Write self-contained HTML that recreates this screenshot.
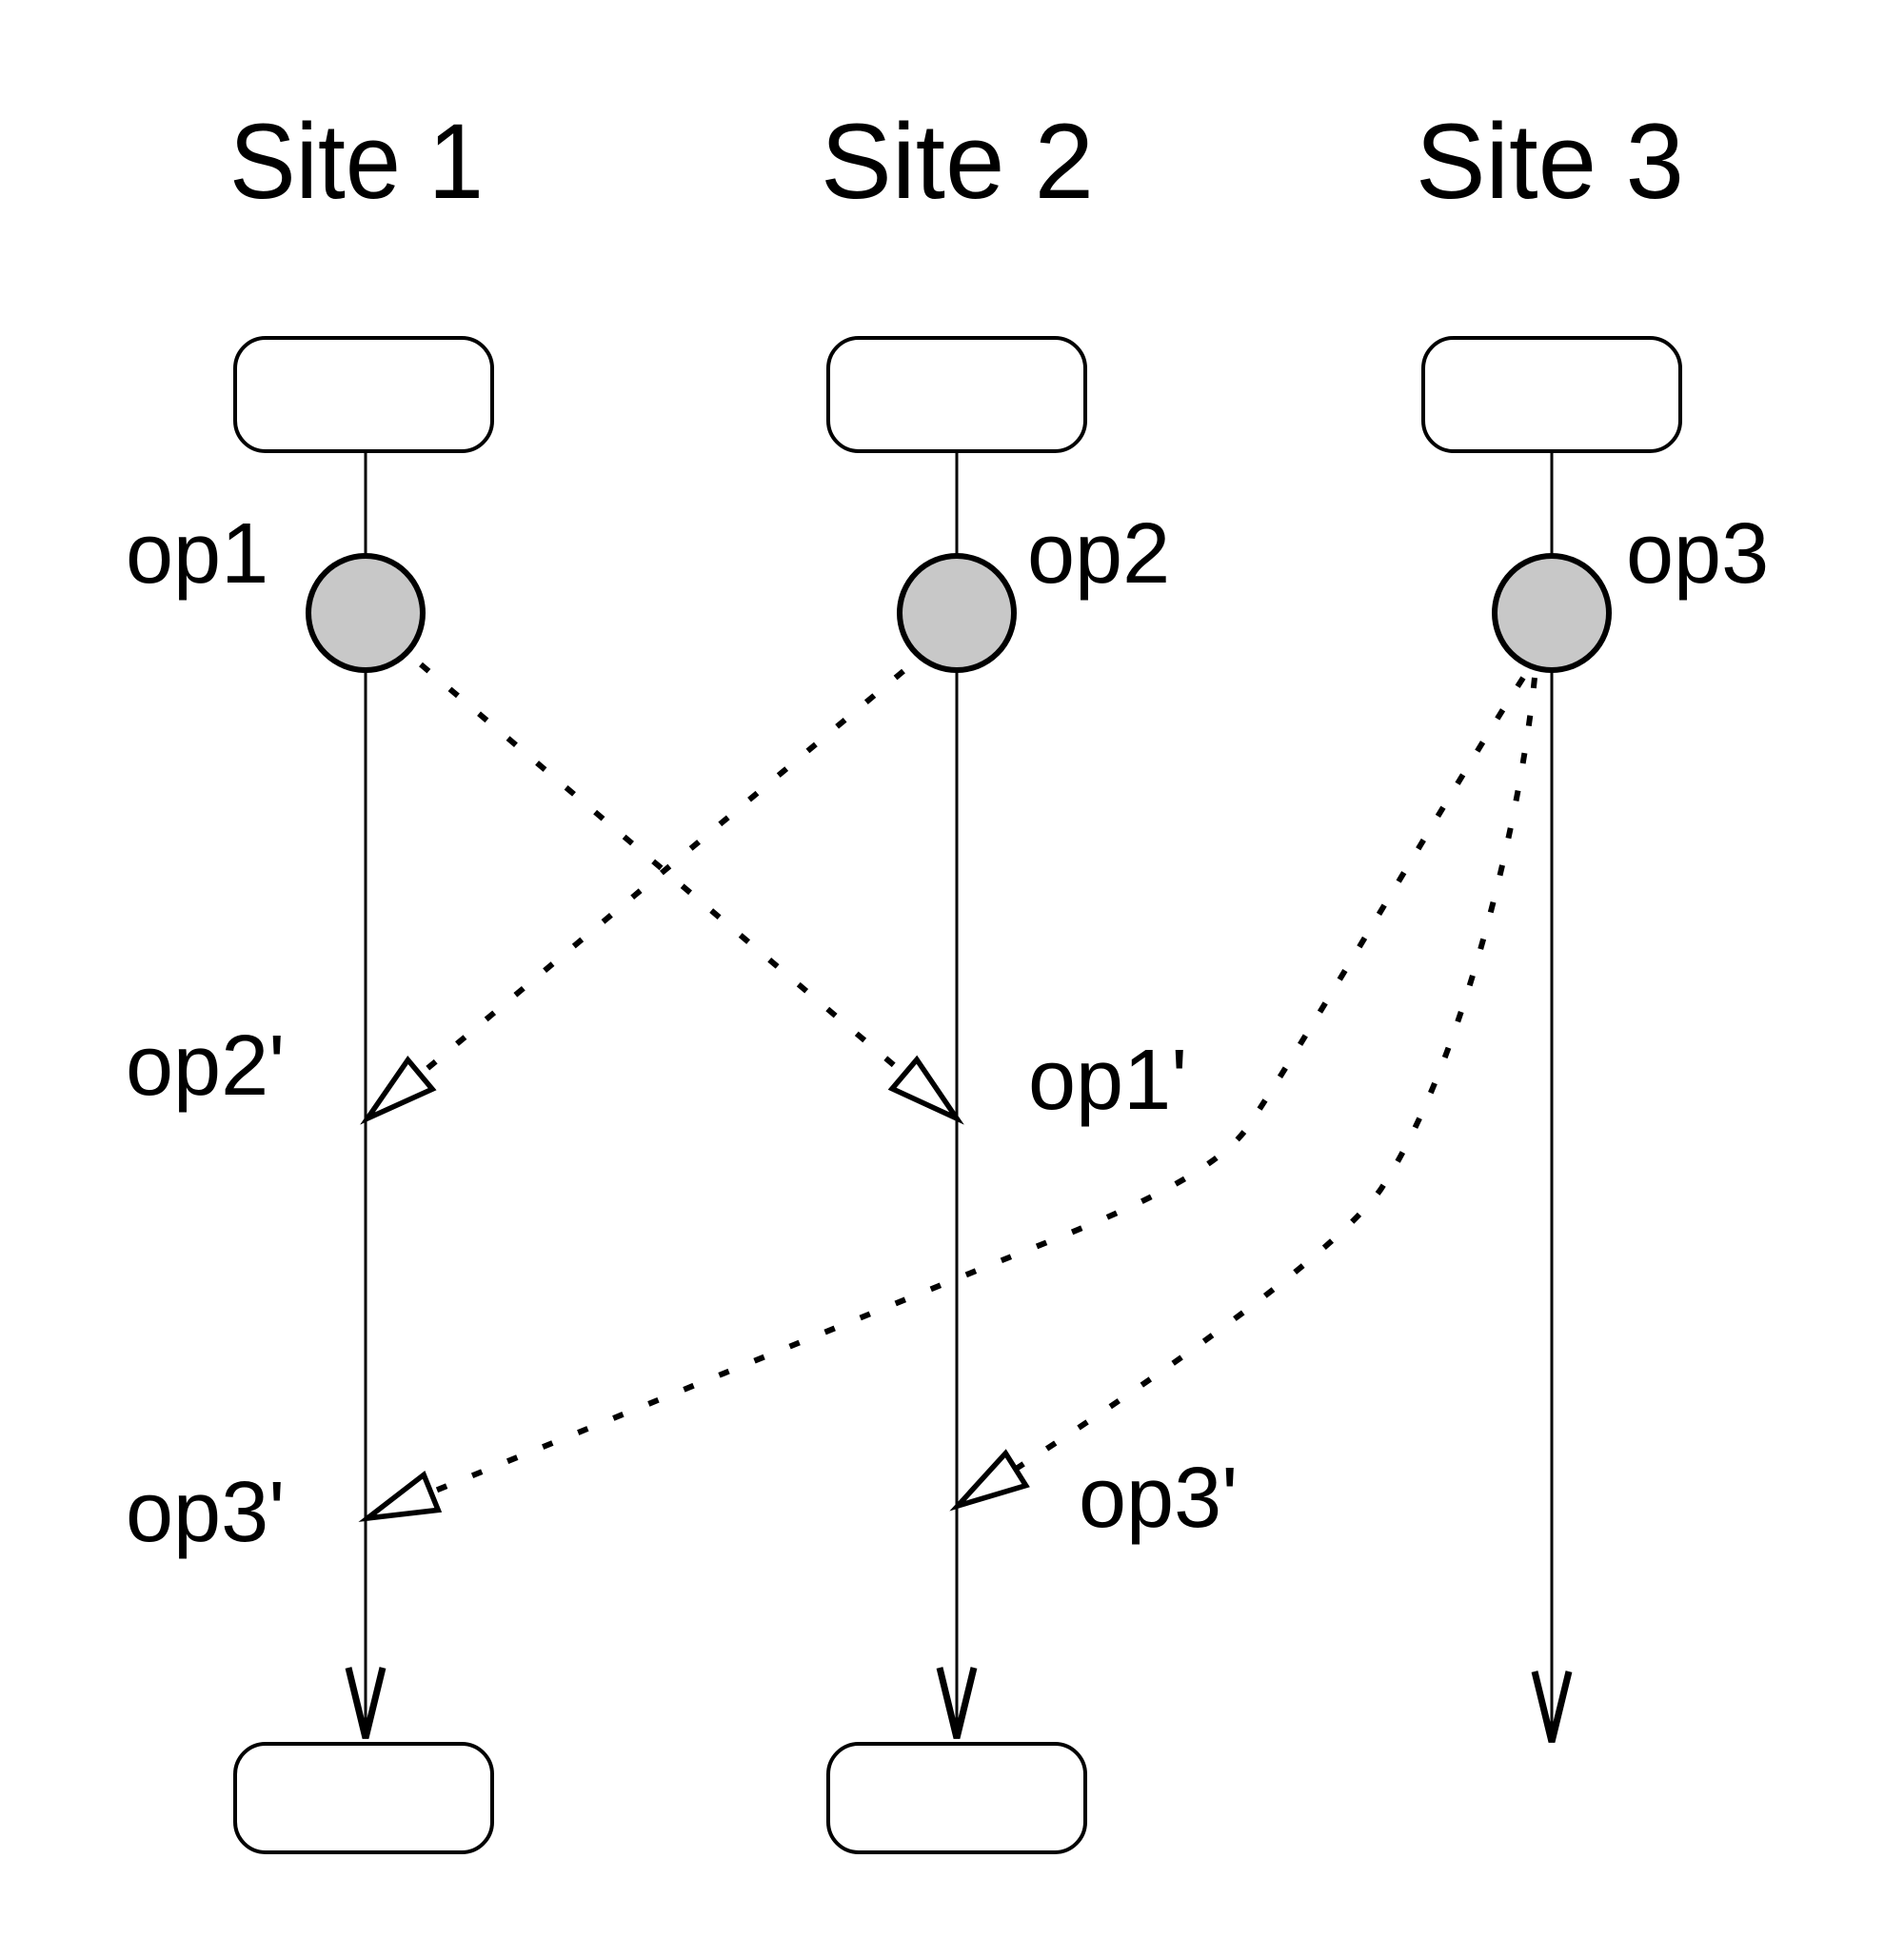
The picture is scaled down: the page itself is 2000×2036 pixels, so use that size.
<!DOCTYPE html>
<html><head><meta charset="utf-8"><style>html,body{margin:0;padding:0;background:#fff}svg{display:block}</style></head>
<body>
<svg width="2000" height="2036" viewBox="0 0 2000 2036" xmlns="http://www.w3.org/2000/svg">
<defs>
<marker id="h" markerUnits="userSpaceOnUse" markerWidth="100" markerHeight="60" refX="80" refY="30" orient="auto" viewBox="0 0 100 60">
<path d="M80,30 L8,10 L8,50 Z" fill="#fff" stroke="#000" stroke-width="5.5" stroke-linejoin="miter"/>
</marker>
</defs>
<g font-family="Liberation Sans, Arial, sans-serif" fill="#000">
<text x="241" y="208" font-size="112" textLength="267" lengthAdjust="spacingAndGlyphs">Site 1</text>
<text x="862" y="208" font-size="112" textLength="287" lengthAdjust="spacingAndGlyphs">Site 2</text>
<text x="1487" y="208" font-size="112" textLength="282" lengthAdjust="spacingAndGlyphs">Site 3</text>
<g font-size="90">
<text x="132" y="612">op1</text>
<text x="1079" y="612">op2</text>
<text x="1708" y="612">op3</text>
<text x="132" y="1150">op2'</text>
<text x="1080" y="1165">op1'</text>
<text x="132" y="1619">op3'</text>
<text x="1133" y="1604">op3'</text>
</g>
</g>
<g stroke="#000" fill="none">
<g stroke-width="4" fill="#fff">
<rect x="247" y="355" width="270" height="119" rx="32"/>
<rect x="870" y="355" width="270" height="119" rx="32"/>
<rect x="1495" y="355" width="270" height="119" rx="32"/>
<rect x="247" y="1832" width="270" height="114" rx="32"/>
<rect x="870" y="1832" width="270" height="114" rx="32"/>
</g>
<g stroke-width="3">
<line x1="384" y1="474" x2="384" y2="1826"/>
<line x1="1005" y1="474" x2="1005" y2="1826"/>
<line x1="1630" y1="474" x2="1630" y2="1830"/>
</g>
<g stroke-width="7" stroke-linejoin="miter">
<path d="M366,1752 L384,1826 L402,1752"/>
<path d="M987,1752 L1005,1826 L1023,1752"/>
<path d="M1612,1756 L1630,1830 L1648,1756"/>
</g>
<g stroke-width="6" fill="#c8c8c8">
<circle cx="384" cy="644" r="60"/>
<circle cx="1005" cy="644" r="60"/>
<circle cx="1630" cy="644" r="60"/>
</g>
<g stroke-width="6" stroke-dasharray="11 29">
<path d="M442,698 L1005,1175" marker-end="url(#h)"/>
<path d="M949,705 L386,1175" marker-end="url(#h)"/>
<path d="M1600,712 C1530,820 1380,1080 1310,1185 C1270,1240 1150,1285 1050,1325 L386,1595" marker-end="url(#h)"/>
<path d="M1612,712 C1595,880 1530,1130 1450,1250 C1400,1320 1200,1460 1006,1582" marker-end="url(#h)"/>
</g>
</g>
</svg>
</body></html>
